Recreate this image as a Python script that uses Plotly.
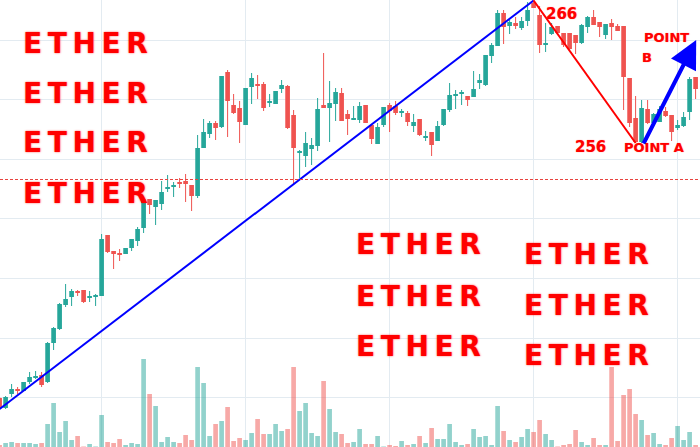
import plotly.graph_objects as go

# ---------------- data ----------------
idx = list(range(-1, 116))

open_ = [230.2, 229.2, 230.6, 231.0, 230.9, 231.8, 232.2, 232.5, 231.8, 235.7,
         237.1, 239.5, 240.3, 240.9, 241.0, 240.2, 240.3, 240.4, 246.5, 244.9,
         244.7, 244.6, 245.2, 245.9, 247.2, 250.1, 249.3, 249.6, 251.1, 251.3,
         251.8, 251.9, 251.5, 250.4, 255.2, 256.6, 257.7, 257.3, 262.8, 259.5,
         259.2, 257.5, 261.3, 261.6, 261.6, 259.7, 259.6, 261.1, 261.4, 258.5,
         254.7, 254.4, 255.1, 255.4, 259.5, 259.2, 259.6, 260.7, 258.6, 258.0,
         258.0, 259.5, 257.5, 255.6, 257.5, 259.5, 259.4, 258.7, 258.7, 257.4,
         258.1, 256.2, 256.8, 255.9, 257.5, 259.0, 260.4, 260.6, 260.4, 260.3,
         261.7, 261.5, 264.4, 265.4, 268.7, 267.4, 267.7, 267.2, 267.9, 269.7,
         268.5, 265.5, 266.6, 267.4, 266.7, 266.7, 266.5, 265.7, 267.3, 268.3,
         267.8, 266.5, 267.7, 267.4, 267.4, 262.2, 258.2, 255.8, 259.1, 257.7,
         257.8, 258.9, 258.5, 257.2, 257.4, 258.8, 262.3]
high = [230.3, 230.4, 231.6, 231.3, 231.8, 232.8, 232.9, 232.8, 235.8, 237.3,
        239.7, 241.6, 241.1, 241.0, 241.0, 240.9, 240.6, 246.6, 246.5, 244.9,
        245.1, 245.2, 246.1, 247.3, 250.1, 250.1, 250.0, 251.9, 252.5, 251.8,
        252.2, 252.6, 251.5, 256.5, 258.1, 257.9, 257.9, 262.4, 263.0, 260.6,
        259.9, 261.2, 262.7, 262.5, 261.8, 260.6, 260.9, 262.0, 261.5, 259.0,
        255.0, 256.8, 256.2, 260.2, 264.7, 261.9, 261.2, 261.2, 259.0, 259.4,
        259.8, 259.5, 257.5, 257.7, 259.3, 259.7, 259.9, 259.1, 258.9, 258.6,
        258.1, 256.9, 256.8, 257.9, 259.1, 261.7, 261.0, 261.0, 260.4, 262.9,
        262.6, 264.5, 265.7, 269.0, 269.0, 268.0, 268.3, 268.3, 269.8, 269.95,
        269.4, 267.7, 267.7, 267.4, 266.7, 266.7, 266.5, 267.6, 268.4, 269.0,
        267.8, 267.6, 268.1, 267.6, 267.4, 262.2, 260.4, 260.0, 260.0, 258.7,
        259.4, 259.3, 258.5, 258.0, 258.8, 262.3, 262.3]
low = [229.1, 229.1, 230.3, 230.6, 230.9, 231.6, 232.1, 231.3, 231.7, 235.0,
       237.0, 239.3, 239.4, 240.4, 239.7, 239.8, 239.4, 240.4, 244.7, 243.1,
       243.9, 244.6, 244.9, 245.4, 246.7, 248.6, 247.5, 249.0, 250.8, 250.3,
       251.2, 249.8, 248.9, 250.2, 255.2, 256.2, 256.0, 257.2, 256.3, 258.6,
       255.7, 257.5, 259.6, 260.1, 258.9, 259.3, 259.6, 260.7, 257.1, 251.6,
       252.2, 253.3, 253.5, 254.9, 259.2, 255.8, 257.9, 257.9, 256.5, 258.0,
       257.7, 257.7, 255.6, 255.6, 257.3, 256.8, 258.5, 258.3, 257.4, 256.8,
       256.4, 255.9, 254.4, 255.9, 257.4, 258.8, 259.1, 259.5, 259.4, 260.3,
       261.1, 261.4, 263.7, 265.4, 265.6, 266.6, 267.1, 267.0, 267.4, 269.2,
       264.7, 264.8, 266.5, 266.7, 265.3, 265.0, 264.6, 265.6, 266.7, 267.5,
       266.3, 266.1, 266.0, 266.9, 259.0, 257.3, 255.7, 255.7, 257.6, 257.65,
       257.8, 258.3, 255.9, 257.0, 257.3, 258.0, 260.1]
close = [229.2, 230.3, 231.1, 230.9, 231.8, 232.3, 232.4, 231.5, 235.7, 237.2,
         239.6, 240.1, 240.9, 240.7, 239.8, 240.3, 240.5, 246.1, 244.8, 244.6,
         244.5, 245.2, 246.1, 247.1, 250.1, 249.5, 250.0, 250.8, 251.3, 251.4,
         251.6, 251.6, 250.4, 255.2, 256.8, 257.7, 257.2, 262.4, 259.9, 258.7,
         257.8, 261.2, 262.2, 261.4, 259.2, 259.8, 260.9, 261.5, 257.2, 255.2,
         254.9, 255.7, 255.5, 259.1, 259.2, 259.7, 260.8, 257.9, 258.1, 258.2,
         259.4, 257.7, 256.1, 257.3, 259.3, 258.9, 258.7, 258.9, 257.8, 257.8,
         256.5, 256.4, 255.5, 257.4, 259.1, 260.5, 260.55, 260.7, 260.0, 261.1,
         262.0, 264.5, 265.5, 268.7, 267.3, 267.8, 267.4, 267.9, 269.0, 269.2,
         265.5, 265.7, 267.3, 266.7, 265.5, 265.1, 265.7, 267.5, 268.3, 267.5,
         267.3, 267.6, 267.3, 266.9, 262.3, 257.7, 255.8, 259.2, 257.7, 258.6,
         259.1, 258.4, 256.8, 257.5, 258.3, 262.1, 261.1]
volume = [20, 40, 50, 40, 40, 40, 30, 40, 230, 440,
          150, 260, 70, 110, 5, 30, 5, 320, 50, 40,
          80, 20, 40, 30, 880, 530, 410, 50, 100, 50,
          40, 120, 70, 800, 640, 110, 230, 260, 400, 60,
          90, 70, 140, 280, 130, 130, 230, 160, 180, 800,
          360, 440, 140, 110, 660, 380, 150, 130, 40, 50,
          180, 30, 30, 110, 5, 20, 10, 60, 20, 30,
          110, 40, 190, 80, 80, 230, 50, 20, 30, 180,
          100, 110, 20, 410, 160, 70, 50, 100, 180, 150,
          270, 130, 70, 5, 20, 30, 170, 50, 20, 90,
          20, 20, 800, 60, 520, 580, 330, 270, 120, 140,
          30, 20, 90, 210, 70, 150, 20]

ref_level = 252.05         # dotted red horizontal level
label_high = "266"
label_low = "256"

UP = "#26a69a"
DOWN = "#ef5350"

fig = go.Figure()

is_up = [c >= o for o, c in zip(open_, close)]

# volume
vol_colors = ["rgba(38,166,154,0.5)" if u else "rgba(239,83,80,0.5)" for u in is_up]
fig.add_trace(go.Bar(x=idx, y=volume, marker=dict(color=vol_colors, line=dict(width=0)),
                     width=0.78, yaxis="y2", showlegend=False, hoverinfo="skip"))

# wicks
for flag, col in [(True, UP), (False, DOWN)]:
    wx, wy = [], []
    for i, u in enumerate(is_up):
        if u == flag:
            wx += [idx[i], idx[i], None]
            wy += [low[i], high[i], None]
    fig.add_trace(go.Scatter(x=wx, y=wy, mode="lines", line=dict(color=col, width=1),
                             showlegend=False, hoverinfo="skip"))

# bodies
body_base = [min(o, c) for o, c in zip(open_, close)]
body_h = [max(abs(c - o), 0.12) for o, c in zip(open_, close)]
body_col = [UP if u else DOWN for u in is_up]
fig.add_trace(go.Bar(x=idx, y=body_h, base=body_base, width=0.78,
                     marker=dict(color=body_col, line=dict(width=0)),
                     showlegend=False, hoverinfo="skip"))

# trend lines anchored on candles
start_i = 0
peak_i = max(range(len(high)), key=lambda k: high[k])
trough_i = 105 - idx[0]
fig.add_shape(type="line", x0=idx[start_i], y0=low[start_i], x1=idx[peak_i], y1=high[peak_i],
              line=dict(color="#0000ff", width=2))
fig.add_shape(type="line", x0=idx[peak_i], y0=high[peak_i], x1=idx[trough_i], y1=low[trough_i],
              line=dict(color="#ff0000", width=2))
fig.add_shape(type="line", xref="paper", x0=0, x1=1, y0=ref_level, y1=ref_level,
              line=dict(color="#e8433f", width=1, dash="3px,2px"))

# blue arrow from point A up to point B
arrow_from = 106 - idx[0]
fig.add_annotation(x=115.1, y=266.0, ax=idx[arrow_from] + 0.2, ay=low[arrow_from] - 0.2,
                   xref="x", yref="y", axref="x", ayref="y", text="", showarrow=True,
                   arrowhead=2, arrowsize=1.4, arrowwidth=4, arrowcolor="#0000ff")

W, H = 700, 447
def px(x, y):
    return x / W, 1 - y / H

txt_font = dict(family="DejaVu Sans", color="#ff0000", size=28, weight="bold",
                shadow="0px 0px 2px rgba(255,0,0,0.7)")
word = "E\u2009T\u2009H\u2009E\u2009R"
ether_pos = [(85, 43), (85, 93), (85, 143), (85, 193),
             (418, 245), (418, 296), (418, 346),
             (586, 255), (586, 305), (586, 355)]
for (x, y) in ether_pos:
    xp, yp = px(x, y)
    fig.add_annotation(x=xp, y=yp, xref="paper", yref="paper", text=word, showarrow=False,
                       font=txt_font, xanchor="center", yanchor="middle")

small_font = dict(family="DejaVu Sans", color="#ff0000", size=15, weight="bold",
                  shadow="0px 0px 1px rgba(255,0,0,0.6)")
pt_font = dict(small_font, size=13)
for (t, x, y, f, xa) in [(label_high, 561, 14, small_font, "center"),
                         (label_low, 590, 147, small_font, "center"),
                         ("POINT A", 654, 147, pt_font, "center"),
                         ("POINT", 666, 37, pt_font, "center"),
                         ("B", 640, 58, pt_font, "left")]:
    xp, yp = px(x, y)
    fig.add_annotation(x=xp, y=yp, xref="paper", yref="paper", text=t, showarrow=False,
                       font=f, xanchor=xa, yanchor="middle")

grid = "#e3ebf1"
fig.update_layout(
    width=W, height=H, margin=dict(l=0, r=0, t=0, b=0),
    paper_bgcolor="white", plot_bgcolor="white",
    barmode="overlay", hovermode=False,
    xaxis=dict(range=[-0.933, 115.733], showgrid=True, gridcolor=grid, gridwidth=1,
               tick0=16, dtick=24, showticklabels=False, zeroline=False, fixedrange=True),
    yaxis=dict(range=[225.3, 270.0], showgrid=True, gridcolor=grid, gridwidth=1,
               tick0=266, dtick=5.96, showticklabels=False, zeroline=False, fixedrange=True),
    yaxis2=dict(range=[0, 4470], overlaying="y", showgrid=False, showticklabels=False,
                zeroline=False, fixedrange=True),
)

fig.write_html("out.html", config={"displayModeBar": False},
               post_script="document.body.style.margin='0px';document.body.style.overflow='hidden';")
